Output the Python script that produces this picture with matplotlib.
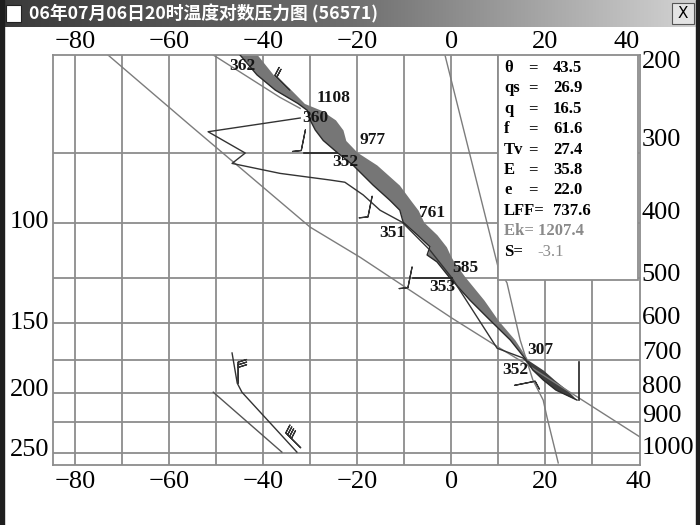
import numpy as np
import matplotlib.pyplot as plt
from matplotlib.patches import Rectangle
from matplotlib.colors import LinearSegmentedColormap

plt.rcParams['font.family'] = ['Liberation Serif', 'DejaVu Serif']

# ---- values (temperature degC, pressure hPa) ----
band_p = [201, 218, 232, 245, 252, 262, 273, 285, 299, 315, 342, 364, 379, 398,
          419, 440, 455, 468, 498, 547, 594, 644, 699, 728, 758, 790, 823]
env_t = [-44.9, -41.3, -37.4, -32.6, -30.6, -30.0, -28.9, -27.2, -24.3, -20.9, -16.6,
         -13.0, -10.9, -10.2, -7.2, -4.5, -5.1, -3.0, -0.4, 4.0, 8.3, 12.6, 16.0,
         17.4, 19.6, 22.3, 26.8]
parcel_t = [-41.2, -37.8, -34.0, -31.2, -27.6, -24.6, -23.0, -22.4, -20.0, -15.8, -11.0,
            -8.6, -7.0, -5.8, -3.0, -1.0, -0.2, 0.6, 3.0, 7.0, 10.0, 13.6, 16.4,
            19.6, 22.0, 24.7, 26.8]

dew_p = [260, 275, 300, 313, 326, 335, 338, 356, 379, 398, 446, 500, 666, 693, 705]
dew_t = [-32.1, -51.7, -43.8, -46.6, -36.4, -25.7, -22.6, -18.7, -15.1, -10.4, -4.5,
         0.2, 9.8, 15.3, 16.2]

lineA_p = [201, 268, 406, 459, 540, 589, 666, 705, 957]
lineA_t = [-73.0, -55.5, -30.0, -19.4, -6.6, 0.2, 10.4, 15.3, 40.2]
lineB_p = [201, 239, 250]
lineB_t = [-50.6, -36.4, -32.1]
lineC_p = [201, 478, 510, 644, 758, 823, 882, 1064]
lineC_t = [-1.3, 10.0, 11.9, 14.7, 17.4, 19.6, 20.4, 22.8]

low1_p = [797, 1018]
low1_t = [-50.6, -36.0]
low2_p = [679, 768, 797, 1018]
low2_t = [-46.6, -45.5, -44.5, -32.8]

# horizontal links from barbs to the sounding
link_p = [300, 500]
link_t0 = [-31.3, -8.1]
link_t1 = [-24.3, 0.2]

sfc_p = [705, 823]
sfc_t = [27.2, 27.2]

barb_t = [-34.3, -31.0, -16.8, -8.3, 13.5, -45.3, -32.0]
barb_p = [232, 273, 358, 478, 775, 768, 1000]
barb_u = [15, 2, 2, 2, -10, 0, 28]
barb_v = [-15, 10, 10, 10, -2, -30, -28]

lvl_text = ['362', '1108', '360', '977', '352', '761', '351', '585', '353', '307', '352']
lvl_t = [-44.5, -25.1, -28.9, -16.8, -22.6, -4.0, -12.6, 3.0, -1.9, 18.9, 13.6]
lvl_p = [210, 240, 260, 285, 311, 383, 416, 480, 519, 671, 728]

info_names = ['θ', 'qs', 'q', 'f', 'Tv', 'E', 'e']
info_vals = ['43.5', '26.9', '16.5', '61.6', '27.4', '35.8', '22.0']
lff_val = '737.6'
ek_val = '1207.4'
s_val = '-3.1'

t_ticks = [-80, -60, -40, -20, 0, 20, 40]
p_grid = [300, 400, 500, 600, 700, 800, 900, 1022]
right_labels = ['200', '300', '400', '500', '600', '700', '800', '900', '1000']
right_pos = [207, 285, 383, 494, 589, 679, 781, 879, 1001]
left_labels = ['100', '150', '200', '250']
left_pos = [398, 600, 790, 1009]

title = '06年07月06日20时温度对数压力图 (56571)'

W, H = 700, 525
fig = plt.figure(figsize=(7, 5.25), dpi=100)
fig.patch.set_facecolor('white')

# window title bar
tb = fig.add_axes([0, 1 - 27 / H, 1, 27 / H])
cmap = LinearSegmentedColormap.from_list('tb', ['#3a3a3a', '#6e6e6e', '#d4d4d4'])
tb.imshow(np.linspace(0, 1, 256)[None, :], aspect='auto', cmap=cmap, extent=[0, 1, 0, 1])
tb.set_xlim(0, 1)
tb.set_ylim(0, 1)
tb.set_axis_off()
tb.add_patch(Rectangle((6 / W, 0.2), 15 / W, 0.6, facecolor='white', edgecolor='#222', lw=0.8))
tb.text(29 / W, 0.5, title, color='white', fontsize=12.8, fontweight='bold', va='center',
        family=['Noto Sans CJK SC', 'DejaVu Sans'])
tb.add_patch(Rectangle((672 / W, 0.12), 22 / W, 0.76, facecolor='#e4e4e4', edgecolor='#555', lw=0.8))
tb.text(683 / W, 0.5, 'X', color='black', fontsize=11, va='center', ha='center', family='DejaVu Sans')

# window side borders
fig.add_artist(Rectangle((0, 0), 4 / W, 1, transform=fig.transFigure, color='#1e1e1e'))
fig.add_artist(Rectangle((1 - 4 / W, 0), 4 / W, 1, transform=fig.transFigure, color='#1e1e1e'))

ax = fig.add_axes([53 / W, 60 / H, 587 / W, 410 / H])
ax.set_yscale('log')
ax.set_ylim(1073, 201)
ax.set_xlim(-84.7, 40.2)
ax.yaxis.set_major_locator(plt.NullLocator())
ax.yaxis.set_minor_locator(plt.NullLocator())
ax.set_xticks(t_ticks)
ax.tick_params(axis='x', length=0, labelsize=19, pad=4)

# top temperature labels
xtr = ax.get_xaxis_transform()
for t in t_ticks:
    lab = f'{t}'.replace('-', '\u2212')
    ax.text(t if t < 40 else 40.2, 1.004, lab, transform=xtr, fontsize=19,
            ha='center' if t < 40 else 'right', va='bottom')

gcol = '#8c8c8c'
for t in range(-80, 40, 10):
    ax.axvline(t, color=gcol, lw=1.3, zorder=0)
for p in p_grid:
    ax.axhline(p, color=gcol, lw=1.3, zorder=0)
for s in ax.spines.values():
    s.set_color(gcol)
    s.set_linewidth(1.3)

ytr = ax.get_yaxis_transform()
for s, p in zip(right_labels, right_pos):
    ax.text(1.003, p, s, transform=ytr, fontsize=19, ha='left', va='center')
for s, p in zip(left_labels, left_pos):
    ax.text(-0.006, p, s, transform=ytr, fontsize=19, ha='right', va='center')

# sounding
bp = np.array(band_p)
ax.fill_betweenx(band_p, env_t, parcel_t, where=bp <= 700, color='#767676', lw=0, zorder=2)
ax.fill_betweenx(band_p, env_t, parcel_t, where=bp >= 699, color='#3e3e3e', lw=0, zorder=2)
ax.plot(env_t, band_p, color='#2a2a2a', lw=1.0, zorder=3)

thin = dict(color='#7c7c7c', lw=1.0, zorder=2)
ax.plot(lineA_t, lineA_p, **thin)
ax.plot(lineB_t, lineB_p, **thin)
ax.plot(lineC_t, lineC_p, **thin)
ax.plot(low1_t, low1_p, color='#555', lw=1.0, zorder=2)
ax.plot(low2_t, low2_p, color='#333', lw=1.0, zorder=2)
ax.plot(dew_t, dew_p, color='#333', lw=1.0, zorder=3)
for p, t0, t1 in zip(link_p, link_t0, link_t1):
    ax.plot([t0, t1], [p, p], color='#222', lw=1.2, zorder=3)
ax.plot(sfc_t, sfc_p, color='#222', lw=1.2, zorder=3)
ax.barbs(barb_t, barb_p, barb_u, barb_v, length=5.5, lw=0.9, color='#333', zorder=3)

for s, t, p in zip(lvl_text, lvl_t, lvl_p):
    ax.text(t, p, s, fontsize=12.5, fontweight='bold', ha='center', va='center',
            color='#151515', zorder=4)

# info box
box_l, box_b = (498 - 53) / 587, (465 - 280) / 410
ax.add_patch(Rectangle((box_l, box_b), (638 - 498) / 587, 1 - box_b, transform=ax.transAxes,
                       facecolor='white', edgecolor=gcol, lw=1.3, zorder=5))
fs = 12
ys = [(465 - (68 + 20.4 * i)) / 410 for i in range(10)]
xl, xe, xv = (504 - 53) / 587, (528 - 53) / 587, (553 - 53) / 587
for i, (n, v) in enumerate(zip(info_names, info_vals)):
    ax.text(xl, ys[i], n, transform=ax.transAxes, fontsize=fs, fontweight='bold', va='center', zorder=6)
    ax.text(xe, ys[i], '=', transform=ax.transAxes, fontsize=fs, fontweight='bold', va='center', zorder=6)
    ax.text(xv, ys[i], v, transform=ax.transAxes, fontsize=fs, fontweight='bold', va='center', zorder=6)
ax.text(xl, ys[7], 'LFF=', transform=ax.transAxes, fontsize=fs, fontweight='bold', va='center', zorder=6)
ax.text(xv, ys[7], lff_val, transform=ax.transAxes, fontsize=fs, fontweight='bold', va='center', zorder=6)
ax.text(xl, ys[8], 'Ek= ' + ek_val, transform=ax.transAxes, fontsize=fs, fontweight='bold',
        va='center', color='#8a8a8a', zorder=6)
ax.text(xl, ys[9], 'S=', transform=ax.transAxes, fontsize=fs, fontweight='bold', va='center', zorder=6)
ax.text((537 - 53) / 587, ys[9], s_val, transform=ax.transAxes, fontsize=fs, va='center',
        color='#8a8a8a', zorder=6)

fig.savefig('out.png', dpi=100)
